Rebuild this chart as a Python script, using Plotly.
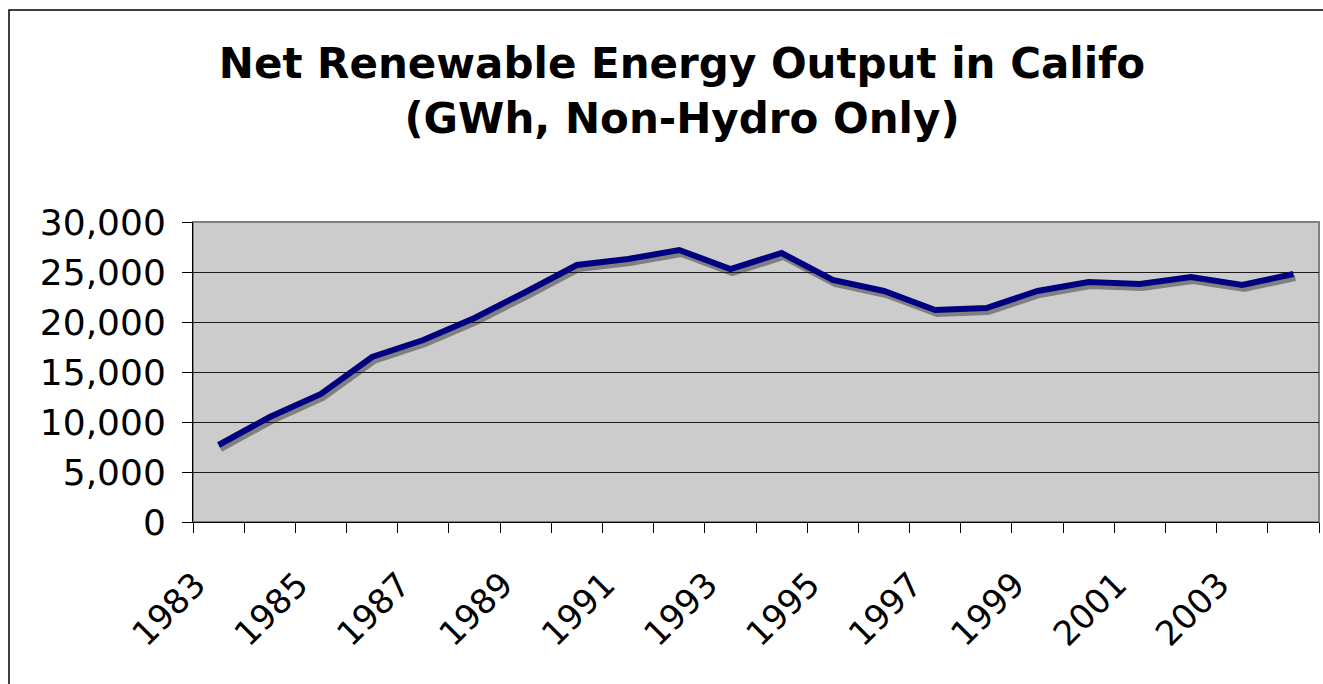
import plotly.graph_objects as go

years = [str(y) for y in range(1983, 2005)]
output_gwh = [7700, 10500, 12800, 16500, 18200, 20400, 23000, 25700, 26300, 27200, 25300,
              26900, 24200, 23100, 21200, 21400, 23100, 24000, 23800, 24500, 23700, 24800]
tick_labels = [y if i % 2 == 0 else "" for i, y in enumerate(years)]
y_ticks = [0, 5000, 10000, 15000, 20000, 25000, 30000]
title_lines = ["Net Renewable Energy Output in Califo", "(GWh, Non-Hydro Only)"]

W, H = 1323, 684
ML, MR, MT, MB = 193, 2, 222, 158
PW = W - ML - MR          # 1128
PH = H - MT - MB          # 304
DX, DY = 2, 4             # shadow offset in px
xa = (PW - DX) / PW
yb = DY / PH

navy = "#000080"
ytick_font = dict(family="DejaVu Sans", size=36, color="black")
xtick_font = dict(family="DejaVu Sans", size=34, color="black")

fig = go.Figure()
# shadow (lower subplot, shifted right/down)
fig.add_trace(go.Scatter(x=years, y=output_gwh, mode="lines", xaxis="x", yaxis="y",
                         line=dict(color="#808080", width=6), hoverinfo="skip", showlegend=False))
# main line (upper subplot, carries the visible axes)
fig.add_trace(go.Scatter(x=years, y=output_gwh, mode="lines", xaxis="x2", yaxis="y2",
                         line=dict(color=navy, width=6), showlegend=False, name="GWh"))

rng_x = [-0.5, len(years) - 0.5]
rng_y = [0, 30000]

fig.update_layout(
    width=W, height=H,
    margin=dict(l=ML, r=MR, t=MT, b=MB, pad=0),
    paper_bgcolor="white",
    plot_bgcolor="rgba(0,0,0,0)",
    showlegend=False,
    title=dict(text="<b>" + title_lines[0] + "<br>" + title_lines[1] + "</b>",
               x=682 / W, xanchor="center", xref="container",
               y=1 - 78 / H, yanchor="top", yref="container",
               font=dict(family="DejaVu Sans", size=42, color="black")),
    xaxis=dict(type="category", domain=[DX / PW, 1], anchor="y", range=rng_x,
               showticklabels=False, ticks="", showline=False, showgrid=False, zeroline=False),
    yaxis=dict(domain=[0, 1 - yb], anchor="x", range=rng_y,
               showticklabels=False, ticks="", showline=False, showgrid=False, zeroline=False),
    xaxis2=dict(type="category", domain=[0, xa], anchor="y2", range=rng_x,
                tickmode="array", tickvals=years, ticktext=tick_labels,
                tickson="boundaries", ticks="outside", ticklen=10, tickcolor="black", tickwidth=1,
                tickangle=-45, tickfont=xtick_font, ticklabelstandoff=28, ticklabelshift=-23,
                showline=True, linecolor="black", linewidth=1, showgrid=False, zeroline=False),
    yaxis2=dict(domain=[yb, 1], anchor="x2", range=rng_y, tickmode="array", tickvals=y_ticks,
                tickformat=",d", ticks="outside", ticklen=10, tickcolor="black", tickwidth=1,
                tickfont=ytick_font, ticklabelstandoff=9,
                showline=True, linecolor="black", linewidth=1,
                showgrid=True, gridcolor="#1a1a1a", gridwidth=1, zeroline=False),
)

# plot area background (gray) with gray border
fig.add_shape(type="rect", xref="paper", yref="paper", x0=0, x1=xa, y0=yb, y1=1,
              fillcolor="#CCCCCC", line=dict(color="#808080", width=2), layer="below")
# outer chart frame
fig.add_shape(type="rect", xref="paper", yref="paper",
              x0=(9 - ML) / PW, x1=(W + 10 - ML) / PW,
              y0=(MT + PH - (H + 10)) / PH, y1=(MT + PH - 10) / PH,
              line=dict(color="black", width=1.5), fillcolor="rgba(0,0,0,0)", layer="below")

# remove the default page margin so the figure fills the 1323x684 window exactly
fig.write_html("out.html", config={"displayModeBar": False},
               post_script="document.body.style.margin='0px';")
